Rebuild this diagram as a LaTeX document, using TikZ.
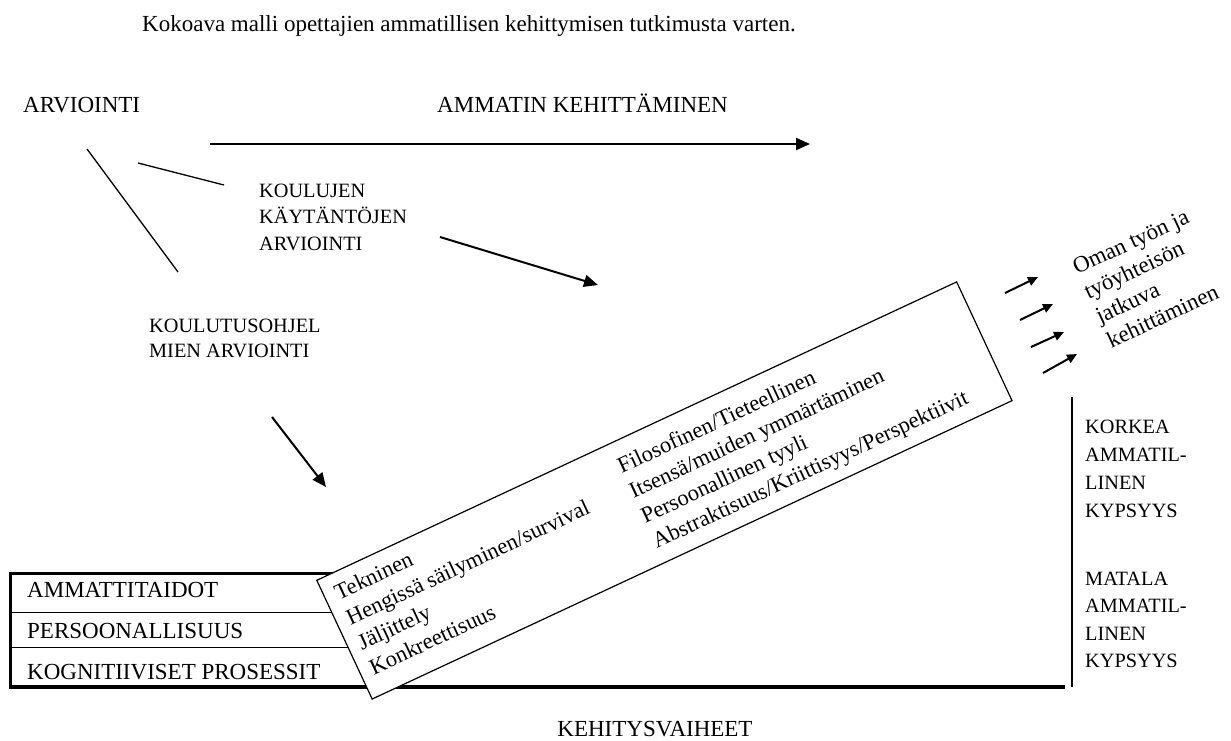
\documentclass[tikz,border=0pt]{standalone}
\usepackage{fontspec}
\setmainfont{Liberation Serif}
\usetikzlibrary{arrows.meta}
\begin{document}
\begin{tikzpicture}[x=1pt,y=-1pt,
  big/.style={font=\fontsize{23}{27}\selectfont, inner sep=0pt, anchor=base west},
  boxtext/.style={font=\fontsize{22.5}{27}\selectfont, inner sep=0pt, anchor=base west},
  small/.style={font=\fontsize{20.3}{26}\selectfont, inner sep=0pt, anchor=base west},
  thinline/.style={line width=1.3pt},
  arr/.style={line width=2pt, -{Triangle[length=14pt,width=12pt]}},
  sarr/.style={line width=2pt, -{Triangle[length=10pt,width=9pt]}},
  stackbox/.style={line width=3pt},
  rowline/.style={line width=1pt},
  axisline/.style={line width=3.5pt},
  vline/.style={line width=1.5pt},
  tiltbox/.style={draw, fill=white, line width=1.2pt, inner sep=0pt, minimum width=706pt, minimum height=131pt, anchor=north west},
]
\useasboundingbox (0,0) rectangle (1231,740);

% title and headings
\node[big] (title) at (142,31) {Kokoava malli opettajien ammatillisen kehittymisen tutkimusta varten.};
\node[big] (arv) at (23,112) {ARVIOINTI};
\node[big] (amk) at (437,112) {AMMATIN KEHITTÄMINEN};

% top arrow
\coordinate (ta) at (210,144);
\coordinate (tb) at (810,144);
\draw[arr] (ta) -- (tb);

% lines from ARVIOINTI
\coordinate (l1a) at (87,149);
\coordinate (l1b) at (178,272);
\coordinate (l2a) at (138,163);
\coordinate (l2b) at (224,185);
\draw[thinline] (l1a) -- (l1b);
\draw[thinline] (l2a) -- (l2b);

% KOULUJEN KÄYTÄNTÖJEN ARVIOINTI
\node[small] (k1) at (259,197) {KOULUJEN};
\node[small] (k2) at (259,223) {KÄYTÄNTÖJEN};
\node[small] (k3) at (259,250) {ARVIOINTI};
\coordinate (kaa) at (440,237);
\coordinate (kab) at (598,285);
\draw[arr] (kaa) -- (kab);

% KOULUTUSOHJELMIEN ARVIOINTI
\node[small] (o1) at (149,332) {KOULUTUSOHJEL};
\node[small] (o2) at (149,357) {MIEN ARVIOINTI};
\coordinate (oaa) at (272,417);
\coordinate (oab) at (326,487);
\draw[arr] (oaa) -- (oab);

% stacked boxes
\draw[rowline] (10,612) -- (420,612);
\draw[rowline] (10,647) -- (420,647);
\draw[stackbox] (420,573) -- (10,573) -- (10,687);
\node[big] (s1) at (27,597) {AMMATTITAIDOT};
\node[big] (s2) at (27,638) {PERSOONALLISUUS};
\node[big] (s3) at (27,679) {KOGNITIIVISET PROSESSIT};

% bottom axis
\coordinate (ba) at (8.5,687);
\coordinate (bb) at (1065,687);
\draw[axisline] (ba) -- (bb);

% tilted box
\begin{scope}[shift={(316,580)}, rotate=25, transform shape]
  \node[tiltbox] (tilt) at (0,0) {};
  \node[boxtext] (t1) at (12,28) {Tekninen};
  \node[boxtext] (t2) at (12,55.6) {Hengissä säilyminen/survival};
  \node[boxtext] (t3) at (12,83.2) {Jäljittely};
  \node[boxtext] (t4) at (12,110.8) {Konkreettisuus};
  \node[boxtext] (r1) at (322,33) {Filosofinen/Tieteellinen};
  \node[boxtext] (r2) at (322,60.6) {Itsensä/muiden ymmärtäminen};
  \node[boxtext] (r3) at (322,88.2) {Persoonallinen tyyli};
  \node[boxtext] (r4) at (322,115.8) {Abstraktisuus/Kriittisyys/Perspektiivit};
\end{scope}

% small arrows
\coordinate (a1a) at (1005,293); \coordinate (a1b) at (1038,277);
\coordinate (a2a) at (1020,320); \coordinate (a2b) at (1053,304);
\coordinate (a3a) at (1031,347); \coordinate (a3b) at (1064,332);
\coordinate (a4a) at (1043,373); \coordinate (a4b) at (1077,354);
\draw[sarr] (a1a) -- (a1b);
\draw[sarr] (a2a) -- (a2b);
\draw[sarr] (a3a) -- (a3b);
\draw[sarr] (a4a) -- (a4b);

% rotated label
\begin{scope}[shift={(1077,275)}, rotate=25, transform shape]
  \node[big] (m1) at (0,0) {Oman työn ja};
  \node[big] (m2) at (0,27) {työyhteisön};
  \node[big] (m3) at (0,54) {jatkuva};
  \node[big] (m4) at (0,81) {kehittäminen};
\end{scope}

% vertical line and maturity labels
\coordinate (va) at (1072,397);
\coordinate (vb) at (1072,687);
\draw[vline] (va) -- (vb);
\node[small] (h1) at (1085,433) {KORKEA};
\node[small] (h2) at (1085,461) {AMMATIL-};
\node[small] (h3) at (1085,489) {LINEN};
\node[small] (h4) at (1085,517) {KYPSYYS};
\node[small] (w1) at (1085,585) {MATALA};
\node[small] (w2) at (1085,612.5) {AMMATIL-};
\node[small] (w3) at (1085,640) {LINEN};
\node[small] (w4) at (1085,667.5) {KYPSYYS};

% x label
\node[big, anchor=base] (kv) at (655,736) {KEHITYSVAIHEET};
\end{tikzpicture}
\end{document}
